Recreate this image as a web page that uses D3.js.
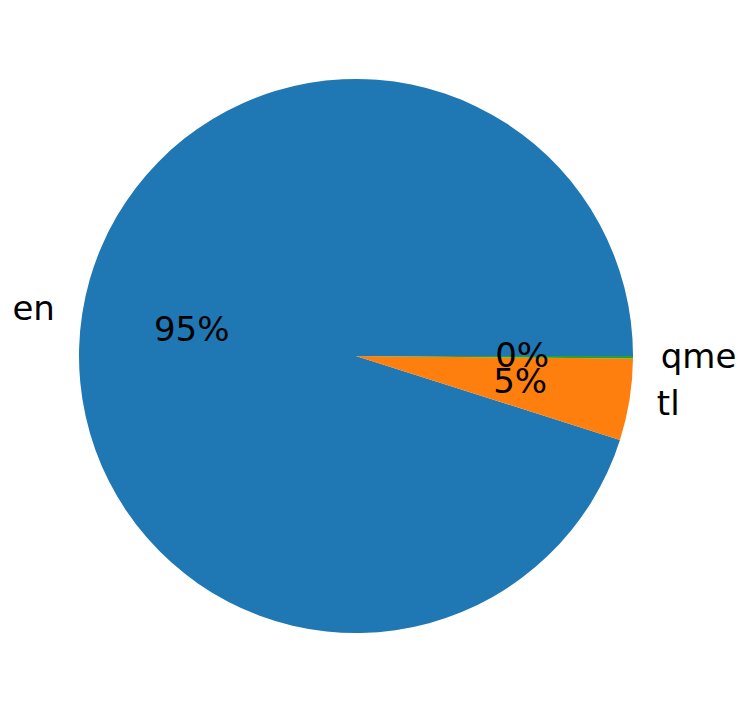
<!DOCTYPE html>
<html><head><meta charset="utf-8">
<script src="https://cdn.jsdelivr.net/npm/d3@7"></script>
<style>body{margin:0;background:#fff}</style>
</head><body>
<svg id="c" width="748" height="713"></svg>
<script>
const labels = ["en", "tl", "qme"];
const values = [95.1, 4.75, 0.15];
const pctLabels = ["95%", "5%", "0%"];
const colors = ["#1f77b4", "#ff7f0e", "#2ca02c"];

const svg = d3.select("#c");
const cx = 356, cy = 356, r = 277;
const g = svg.append("g").attr("transform", `translate(${cx},${cy})`);
const pie = d3.pie().sort(null).value(d => d)
  .startAngle(Math.PI / 2).endAngle(Math.PI / 2 - 2 * Math.PI);
const arcs = pie(values);
const arc = d3.arc().innerRadius(0).outerRadius(r);
g.selectAll("path").data(arcs).enter().append("path")
  .attr("d", arc).attr("fill", (d, i) => colors[i]);

const font = "DejaVu Sans, sans-serif";
const fs = 34;
arcs.forEach((d, i) => {
  const a = (d.startAngle + d.endAngle) / 2;
  const lx = 1.1 * r * Math.sin(a), ly = -1.1 * r * Math.cos(a);
  g.append("text").attr("x", lx).attr("y", ly - 1.5)
    .attr("text-anchor", lx >= 0 ? "start" : "end")
    .attr("dominant-baseline", "central")
    .attr("font-family", font).attr("font-size", fs).attr("fill", "#000")
    .text(labels[i]);
  const px = 0.6 * r * Math.sin(a), py = -0.6 * r * Math.cos(a);
  g.append("text").attr("x", px).attr("y", py - 1.5)
    .attr("text-anchor", "middle")
    .attr("dominant-baseline", "central")
    .attr("font-family", font).attr("font-size", fs).attr("fill", "#000")
    .text(pctLabels[i]);
});
</script>
</body></html>
